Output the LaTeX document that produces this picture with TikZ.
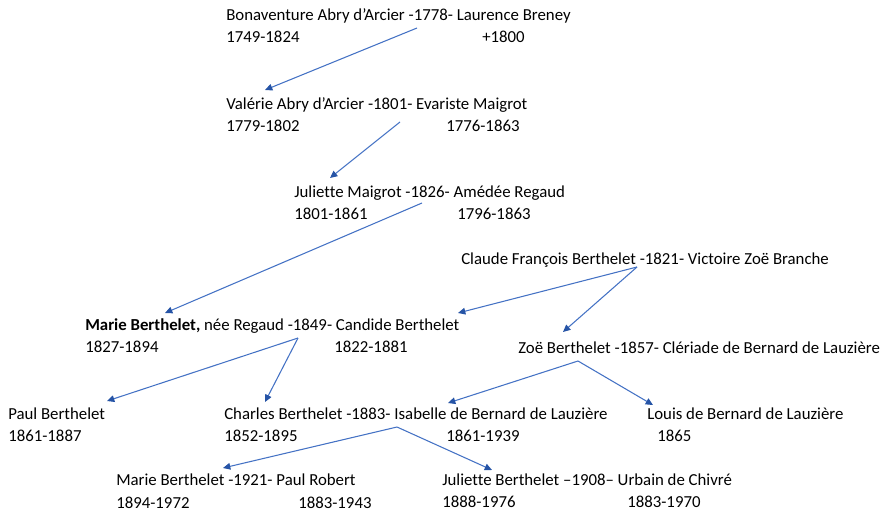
\documentclass[tikz,border=0pt]{standalone}
\usepackage{fontspec}
\setmainfont{Carlito}[Ligatures=NoCommon]
\usepackage{tikz}
\usetikzlibrary{arrows.meta,calc}
\definecolor{linkblue}{RGB}{68,114,196}
\definecolor{tipblue}{RGB}{38,84,166}

\begin{document}
\begin{tikzpicture}[x=0.75pt,y=-0.75pt,
  every node/.style={anchor=base west,inner sep=0pt,font=\fontsize{12.6}{15}\selectfont},
  link/.style={draw=linkblue,line width=0.8pt,-{Triangle[length=5.5pt,width=5pt,color=tipblue]}}]

\useasboundingbox (0,0) rectangle (888,514);

% first generations
\node (bonaventure) at (226,21) {Bonaventure Abry d’Arcier -1778- Laurence Breney};
\node (bonaventureD) at (226,42) {1749-1824};
\node (laurenceD) at (482,42) {+1800};

\node (valerie) at (226,109) {Valérie Abry d’Arcier -1801- Evariste Maigrot};
\node (valerieD) at (226,131) {1779-1802};
\node (evaristeD) at (446,131) {1776-1863};

\node (juliette) at (294,197) {Juliette Maigrot -1826- Amédée Regaud};
\node (julietteD) at (294,219) {1801-1861};
\node (amedeeD) at (457,219) {1796-1863};

\node (claude) at (461,264) {Claude François Berthelet -1821- Victoire Zoë Branche};

\node (marie) at (85,330) {\textbf{Marie Berthelet,} née Regaud -1849- Candide Berthelet};
\node (marieD) at (85,352) {1827-1894};
\node (candideD) at (334,352) {1822-1881};

\node (zoe) at (518,353) {Zoë Berthelet -1857- Clériade de Bernard de Lauzière};

% children
\node (paul) at (8,419) {Paul Berthelet};
\node (paulD) at (8,441) {1861-1887};

\node (charles) at (224,419) {Charles Berthelet -1883- Isabelle de Bernard de Lauzière};
\node (charlesD) at (224,441) {1852-1895};
\node (isabelleD) at (446,441) {1861-1939};

\node (louis) at (647,419) {Louis de Bernard de Lauzière};
\node (louisD) at (657,441) {1865};

\node (marieR) at (116,485) {Marie Berthelet -1921- Paul Robert};
\node (marieRD) at (116,508) {1894-1972};
\node (paulRD) at (298,508) {1883-1943};

\node (julietteC) at (442,485) {Juliette Berthelet –1908– Urbain de Chivré};
\node (julietteCD) at (442,507) {1888-1976};
\node (urbainD) at (627,507) {1883-1970};

% marriages
\coordinate (m1778) at (417,28);
\coordinate (m1801) at (400,122);
\coordinate (m1826) at (422,203);
\coordinate (m1821) at (637,267);
\coordinate (m1849) at (298,338);
\coordinate (m1857) at (578,361);
\coordinate (m1883) at (397,427);

\draw[link] (m1778) -- ($(valerie.base west)+(39,-19)$);
\draw[link] (m1801) -- ($(juliette.base west)+(36,-19)$);
\draw[link] (m1826) -- ($(marie.base west)+(80,-17)$);
\draw[link] (m1821) -- ($(marie.base west)+(373,-17)$);
\draw[link] (m1821) -- ($(zoe.base west)+(45,-21)$);
\draw[link] (m1849) -- ($(paul.base west)+(99,-18)$);
\draw[link] (m1849) -- ($(charles.base west)+(41,-17)$);
\draw[link] (m1857) -- ($(charles.base west)+(224,-16)$);
\draw[link] (m1857) -- ($(louis.base west)+(6,-14)$);
\draw[link] (m1883) -- ($(marieR.base west)+(107,-17)$);
\draw[link] (m1883) -- ($(julietteC.base west)+(50,-15)$);

\end{tikzpicture}
\end{document}
